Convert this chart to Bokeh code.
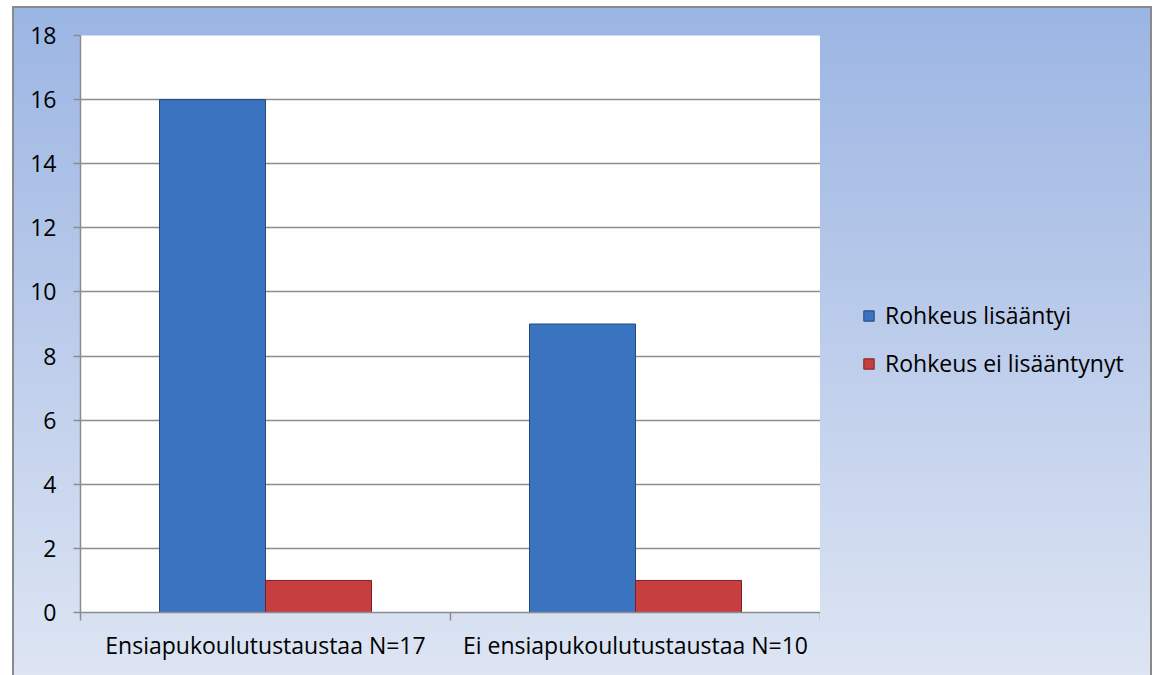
import numpy as np
from bokeh.plotting import figure
from bokeh.layouts import row
from bokeh.models import (ColumnDataSource, Legend, LegendItem, FixedTicker,
                          Range1d)
from bokeh.embed import file_html
from bokeh.resources import INLINE

# ---- data ----
categories = ["Ensiapukoulutustaustaa N=17", "Ei ensiapukoulutustaustaa N=10"]
series_names = ["Rohkeus lisääntyi", "Rohkeus ei lisääntynyt"]
rohkeus_lisaantyi = [16, 9]
rohkeus_ei_lisaantynyt = [1, 1]
y_ticks = [0, 2, 4, 6, 8, 10, 12, 14, 16, 18]

# ---- styling ----
FONT = "Open Sans"
blue = "#3A73C0"
blue_line = "#24487E"
red = "#C63E3F"
red_line = "#7E1F20"
grid = "#8C8C8C"

n = len(categories)
centers = np.arange(n) + 0.5
bar_w = 0.2865

src = ColumnDataSource(dict(
    xb=centers - bar_w / 2,
    xr=centers + bar_w / 2,
    b=rohkeus_lisaantyi,
    r=rohkeus_ei_lisaantynyt,
))

p = figure(width=806, height=667, output_backend="svg", toolbar_location=None,
           x_range=Range1d(0, n), y_range=Range1d(0, max(y_ticks)),
           min_border_left=66, min_border_top=27, min_border_bottom=63,
           min_border_right=0)
p.border_fill_color = None
p.background_fill_color = "white"
p.outline_line_color = None

rb = p.vbar(x="xb", top="b", bottom=0, width=bar_w, source=src,
            fill_color=blue, line_color=blue_line, line_width=1)
rr = p.vbar(x="xr", top="r", bottom=0, width=bar_w, source=src,
            fill_color=red, line_color=red_line, line_width=1)

# y axis
p.yaxis.ticker = FixedTicker(ticks=y_ticks)
p.yaxis.major_tick_out = 7
p.yaxis.major_tick_in = 0
p.yaxis.minor_tick_line_color = None
p.yaxis.axis_line_color = grid
p.yaxis.axis_line_width = 1.5
p.yaxis.major_tick_line_color = grid
p.yaxis.major_tick_line_width = 1.5
p.yaxis.major_label_standoff = 17
p.yaxis.major_label_text_font = FONT
p.yaxis.major_label_text_font_size = "23px"
p.yaxis.major_label_text_color = "black"

# x axis: labels at category centers, tick marks at boundaries
p.xaxis.ticker = FixedTicker(ticks=list(centers), minor_ticks=list(range(n + 1)))
p.xaxis.major_label_overrides = {float(c): cat for c, cat in zip(centers, categories)}
p.xaxis.major_tick_line_color = None
p.xaxis.major_tick_out = 0
p.xaxis.major_tick_in = 0
p.xaxis.minor_tick_out = 8
p.xaxis.minor_tick_in = 0
p.xaxis.minor_tick_line_color = grid
p.xaxis.minor_tick_line_width = 1.5
p.xaxis.axis_line_color = grid
p.xaxis.axis_line_width = 1.5
p.xaxis.major_label_standoff = 8
p.xaxis.major_label_text_font = FONT
p.xaxis.major_label_text_font_size = "23px"
p.xaxis.major_label_text_color = "black"

p.ygrid.ticker = FixedTicker(ticks=y_ticks)
p.ygrid.grid_line_color = grid
p.ygrid.grid_line_width = 1.5
p.xgrid.grid_line_color = None

# ---- legend panel (separate figure on the right) ----
lf = figure(width=330, height=667, output_backend="svg", toolbar_location=None,
            x_range=Range1d(0, 1), y_range=Range1d(0, 1),
            min_border_left=0, min_border_right=0, min_border_top=0,
            min_border_bottom=0)
lf.axis.visible = False
lf.grid.grid_line_color = None
lf.outline_line_color = None
lf.border_fill_color = None
lf.background_fill_color = None

# hidden proxies sharing the series data, used only for legend swatches
lb = lf.vbar(x="xb", top="b", width=bar_w, source=src, visible=False,
             fill_color=blue, line_color=blue_line)
lr = lf.vbar(x="xr", top="r", width=bar_w, source=src, visible=False,
             fill_color=red, line_color=red_line)

legend = Legend(items=[LegendItem(label=series_names[0], renderers=[lb]),
                       LegendItem(label=series_names[1], renderers=[lr])],
                location=(42, 233))
legend.margin = 0
legend.padding = 0
legend.spacing = 16
legend.label_height = 24
legend.glyph_width = 13
legend.glyph_height = 13
legend.label_standoff = 10
legend.label_text_font = FONT
legend.label_text_font_size = "23px"
legend.label_text_color = "black"
legend.background_fill_alpha = 0
legend.border_line_color = None
legend.inactive_fill_alpha = 0
lf.add_layout(legend, "center")

layout = row(p, lf, spacing=0)
layout.margin = (6, 0, 0, 12)
layout.styles = {"background": "linear-gradient(to bottom, #9BB5E3 0%, #B9CAEA 45%, #DDE5F3 100%)",
                 "border-top": "2px solid #8A8A8A", "border-left": "2px solid #8A8A8A",
                 "border-right": "2px solid #8A8A8A"}

open("out.html", "w").write(file_html(layout, INLINE))
